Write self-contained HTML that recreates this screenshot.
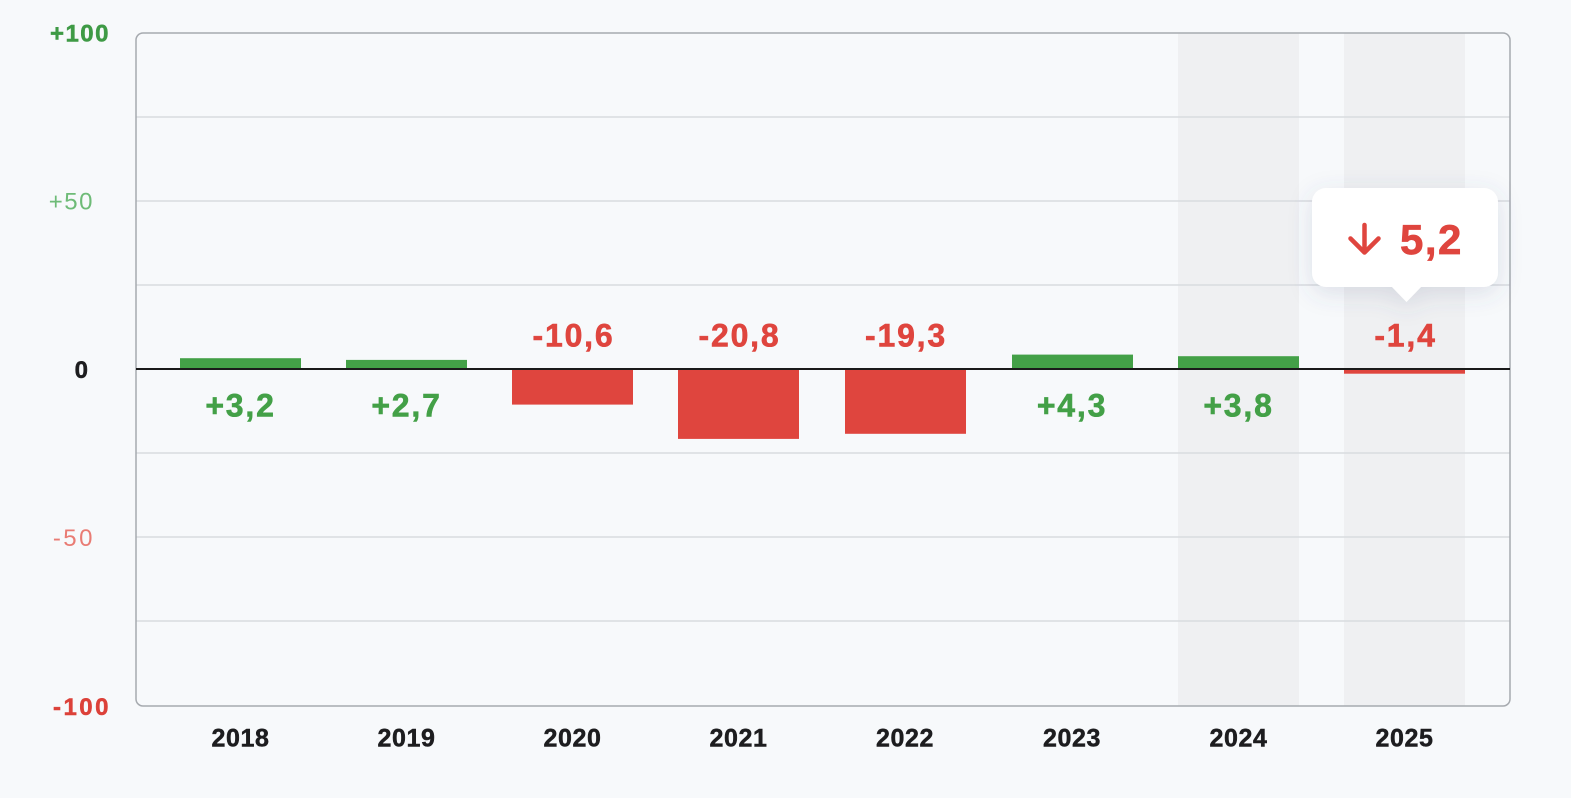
<!DOCTYPE html>
<html>
<head>
<meta charset="utf-8">
<style>
  html,body{margin:0;padding:0;background:#f7f9fb;}
  svg{display:block;}
  text{font-family:"Liberation Sans", sans-serif;}
</style>
</head>
<body>
<svg width="1571" height="798" viewBox="0 0 1571 798" xmlns="http://www.w3.org/2000/svg">
  <defs>
    <filter id="sh" x="-40%" y="-40%" width="180%" height="190%">
      <feDropShadow dx="0" dy="6" stdDeviation="12" flood-color="#4a5a80" flood-opacity="0.16"/>
    </filter>
  </defs>
  <rect x="0" y="0" width="1571" height="798" fill="#f7f9fb"/>

  <!-- highlight bands -->
  <rect x="1178" y="33" width="121" height="673" fill="#eff0f2"/>
  <rect x="1344" y="33" width="121" height="673" fill="#eff0f2"/>

  <!-- grid lines -->
  <g stroke="#d9dce0" stroke-width="1.5">
    <line x1="136" y1="117" x2="1510" y2="117"/>
    <line x1="136" y1="201" x2="1510" y2="201"/>
    <line x1="136" y1="285" x2="1510" y2="285"/>
    <line x1="136" y1="453" x2="1510" y2="453"/>
    <line x1="136" y1="537" x2="1510" y2="537"/>
    <line x1="136" y1="621" x2="1510" y2="621"/>
  </g>

  <!-- plot border -->
  <rect x="136" y="33" width="1374" height="673" rx="7" ry="7" fill="none" stroke="#a6aaaf" stroke-width="1.5"/>

  <!-- bars -->
  <g>
    <rect x="180" y="358.2" width="121" height="10.8" fill="#43a047"/>
    <rect x="346" y="359.9" width="121" height="9.1" fill="#43a047"/>
    <rect x="512" y="369" width="121" height="35.6" fill="#df453e"/>
    <rect x="678" y="369" width="121" height="69.9" fill="#df453e"/>
    <rect x="845" y="369" width="121" height="64.8" fill="#df453e"/>
    <rect x="1012" y="354.6" width="121" height="14.4" fill="#43a047"/>
    <rect x="1178" y="356.2" width="121" height="12.8" fill="#43a047"/>
    <rect x="1344" y="369" width="121" height="4.7" fill="#df453e"/>
  </g>

  <!-- zero line -->
  <line x1="136" y1="369" x2="1510" y2="369" stroke="#1a1a1a" stroke-width="2"/>

  <!-- y tick labels -->
  <text x="110" y="41.5" text-anchor="end" font-size="24" font-weight="bold" fill="#3e9a45" stroke="#3e9a45" stroke-width="0.5" letter-spacing="1.5">+100</text>
  <text x="94" y="209.5" text-anchor="end" font-size="24" fill="#6ebb77" letter-spacing="1.5">+50</text>
  <text x="88" y="378" text-anchor="end" font-size="24" font-weight="bold" fill="#1d1d1f" stroke="#1d1d1f" stroke-width="0.5">0</text>
  <text x="95" y="546" text-anchor="end" font-size="24" fill="#e97c74" letter-spacing="2.5">-50</text>
  <text x="111" y="715" text-anchor="end" font-size="24" font-weight="bold" fill="#dc4139" stroke="#dc4139" stroke-width="0.5" letter-spacing="2.5">-100</text>

  <!-- value labels -->
  <g font-size="32" font-weight="bold" text-anchor="middle" letter-spacing="1.8" stroke-width="0.6">
    <text x="240.5" y="416.5" fill="#43a047" stroke="#43a047">+3,2</text>
    <text x="406.5" y="416.5" fill="#43a047" stroke="#43a047">+2,7</text>
    <text x="573.5" y="346.5" fill="#df453e" stroke="#df453e">-10,6</text>
    <text x="739.5" y="346.5" fill="#df453e" stroke="#df453e">-20,8</text>
    <text x="906" y="346.5" fill="#df453e" stroke="#df453e">-19,3</text>
    <text x="1072" y="416.5" fill="#43a047" stroke="#43a047">+4,3</text>
    <text x="1238.5" y="416.5" fill="#43a047" stroke="#43a047">+3,8</text>
    <text x="1405.5" y="346.5" fill="#df453e" stroke="#df453e">-1,4</text>
  </g>

  <!-- year labels -->
  <g font-size="25" font-weight="bold" text-anchor="middle" fill="#1d1d1f" stroke="#1d1d1f" stroke-width="0.5" letter-spacing="0.6">
    <text x="240.5" y="746.5">2018</text>
    <text x="406.5" y="746.5">2019</text>
    <text x="572.5" y="746.5">2020</text>
    <text x="738.5" y="746.5">2021</text>
    <text x="905" y="746.5">2022</text>
    <text x="1072" y="746.5">2023</text>
    <text x="1238.5" y="746.5">2024</text>
    <text x="1404.5" y="746.5">2025</text>
  </g>

  <!-- tooltip -->
  <g filter="url(#sh)">
    <rect x="1312" y="188" width="186" height="99" rx="14" ry="14" fill="#ffffff"/>
    <polygon points="1391,286 1422,286 1406.5,302" fill="#ffffff"/>
  </g>
  <g stroke="#df453e" stroke-width="4.5" stroke-linecap="round" stroke-linejoin="round" fill="none">
    <line x1="1364.5" y1="225" x2="1364.5" y2="252"/>
    <polyline points="1350.5,238.5 1364.5,252.5 1378.5,238.5"/>
  </g>
  <text x="1400" y="254" font-size="42" font-weight="bold" fill="#df453e" stroke="#df453e" stroke-width="0.7" letter-spacing="1.5">5,2</text>
</svg>
</body>
</html>
